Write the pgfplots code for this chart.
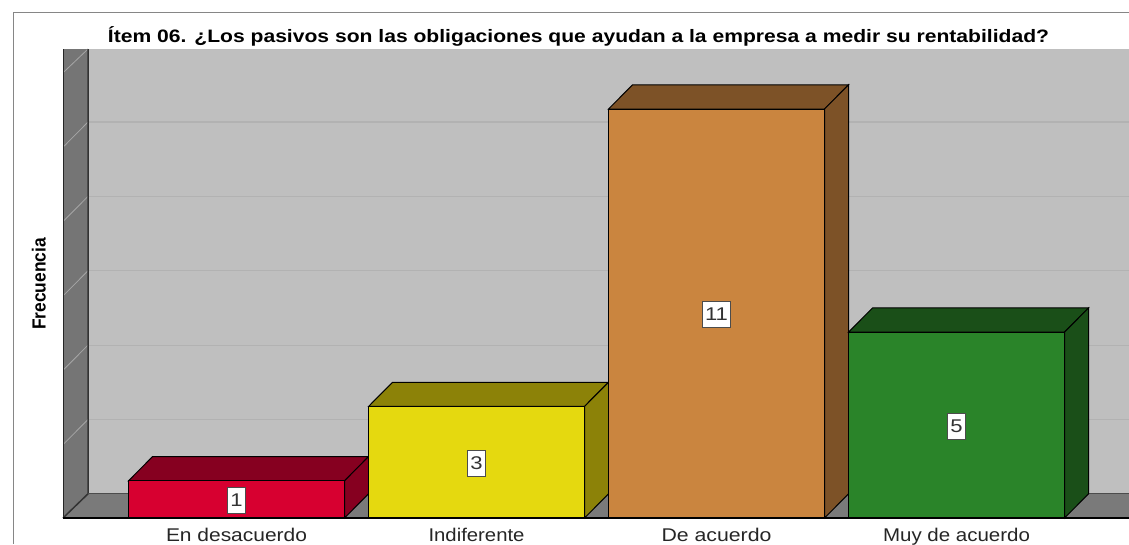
\documentclass[border=0pt]{standalone}
\usepackage{pgfplots}
\usepackage{graphicx}
\usepackage{fontspec}
\setmainfont{Liberation Sans}
\pgfplotsset{compat=1.18}
\definecolor{wall}{HTML}{BFBFBF}
\definecolor{sidewall}{HTML}{757575}
\definecolor{floorc}{HTML}{7A7A7A}
\definecolor{gridc}{HTML}{B2B2B2}
\definecolor{diagc}{HTML}{A6A6A6}
\definecolor{redf}{HTML}{D70030}
\definecolor{redd}{HTML}{860020}
\definecolor{yelf}{HTML}{E5D90F}
\definecolor{yeld}{HTML}{8C8208}
\definecolor{oraf}{HTML}{CA853F}
\definecolor{orad}{HTML}{7D5227}
\definecolor{grnf}{HTML}{2A8429}
\definecolor{grnd}{HTML}{1A4F18}
\newcommand{\tl}[2]{\resizebox{#1pt}{\height}{#2}}
\begin{document}
\begin{tikzpicture}[x=1pt,y=1pt]
\path[use as bounding box] (0,-26) rectangle (1129,518);
\begin{axis}[
  at={(0pt,0pt)}, anchor=south west,
  scale only axis, width=1129pt, height=518pt,
  xmin=-0.98542, xmax=3.71875, ymin=0, ymax=13.932,
  clip=false,
  axis x line=bottom, axis y line=left,
  x axis line style={draw=none,-}, y axis line style={draw=none,-},
  major tick length=0pt,
  ytick=\empty,
  xtick={0,1,2,3},
  xticklabels={\tl{141}{En desacuerdo},\tl{96}{Indiferente},\tl{110}{De acuerdo},\tl{147}{Muy de acuerdo}},
  xticklabel style={anchor=base,yshift=-23.5pt,font=\fontsize{18.4}{20}\selectfont,text=black!85},
  title={\resizebox{941pt}{\height}{\bfseries Ítem 06. ¿Los pasivos son las obligaciones que ayudan a la empresa a medir su rentabilidad?}},
  title style={at={(0.5124,0.9183)},anchor=base,yshift=-6pt,font=\fontsize{18}{20}\selectfont},
  ylabel={\resizebox{92pt}{\height}{\bfseries Frecuencia}},
  ylabel style={at={(0.0345,0.452)},rotate=0,anchor=center,font=\fontsize{19}{20}\selectfont},
]
% page frame
\addplot[draw=gray!95,line width=1pt] coordinates {(-0.93125,-0.699) (-0.93125,13.609) (3.71875,13.609)};
% back wall
\addplot[draw=none,fill=wall] coordinates {(-0.61875,0.65) (-0.61875,12.614) (3.71875,12.614) (3.71875,0.65)} -- cycle;
% gridlines on the back wall
\addplot[draw=gridc,line width=1.2pt] coordinates {(-0.61875,2.65) (3.71875,2.65)};
\addplot[draw=gridc,line width=1.2pt] coordinates {(-0.61875,4.65) (3.71875,4.65)};
\addplot[draw=gridc,line width=1.2pt] coordinates {(-0.61875,6.65) (3.71875,6.65)};
\addplot[draw=gridc,line width=1.2pt] coordinates {(-0.61875,8.65) (3.71875,8.65)};
\addplot[draw=gridc,line width=1.2pt] coordinates {(-0.61875,10.65) (3.71875,10.65)};
% side wall
\addplot[draw=none,fill=sidewall] coordinates {(-0.72292,0) (-0.61875,0.65) (-0.61875,12.614) (-0.72292,12.614)} -- cycle;
\addplot[draw=diagc,line width=0.8pt] coordinates {(-0.7187,2) (-0.61875,2.65)};
\addplot[draw=diagc,line width=0.8pt] coordinates {(-0.7187,4) (-0.61875,4.65)};
\addplot[draw=diagc,line width=0.8pt] coordinates {(-0.7187,6) (-0.61875,6.65)};
\addplot[draw=diagc,line width=0.8pt] coordinates {(-0.7187,8) (-0.61875,8.65)};
\addplot[draw=diagc,line width=0.8pt] coordinates {(-0.7187,10) (-0.61875,10.65)};
\addplot[draw=diagc,line width=0.8pt] coordinates {(-0.7187,12) (-0.61875,12.614)};
\addplot[draw=black!85,line width=1pt] coordinates {(-0.72292,12.614) (-0.72292,0)};
% floor
\addplot[draw=none,fill=floorc] coordinates {(-0.72292,0) (-0.61875,0.65) (3.71875,0.65) (3.71875,0)} -- cycle;
\addplot[draw=black!80,line width=1.5pt] coordinates {(-0.72292,0) (-0.61875,0.65) (-0.61875,12.614)};
\addplot[draw=black!70,line width=1.2pt] coordinates {(-0.61875,0.65) (3.71875,0.65)};
% bar 1
\addplot[draw=black,fill=redd,line width=1pt] coordinates {(-0.45,1) (-0.35,1.65) (0.55,1.65) (0.45,1)} -- cycle;
\addplot[draw=black,fill=redd,line width=1pt] coordinates {(0.45,0) (0.55,0.65) (0.55,1.65) (0.45,1)} -- cycle;
\addplot[ybar,bar width=0.9,bar shift=0pt,draw=black,fill=redf,line width=1pt] coordinates {(0,1)};
% bar 2
\addplot[draw=black,fill=yeld,line width=1pt] coordinates {(0.55,3) (0.65,3.65) (1.55,3.65) (1.45,3)} -- cycle;
\addplot[draw=black,fill=yeld,line width=1pt] coordinates {(1.45,0) (1.55,0.65) (1.55,3.65) (1.45,3)} -- cycle;
\addplot[ybar,bar width=0.9,bar shift=0pt,draw=black,fill=yelf,line width=1pt] coordinates {(1,3)};
% bar 3
\addplot[draw=black,fill=orad,line width=1pt] coordinates {(1.55,11) (1.65,11.65) (2.55,11.65) (2.45,11)} -- cycle;
\addplot[draw=black,fill=orad,line width=1pt] coordinates {(2.45,0) (2.55,0.65) (2.55,11.65) (2.45,11)} -- cycle;
\addplot[ybar,bar width=0.9,bar shift=0pt,draw=black,fill=oraf,line width=1pt] coordinates {(2,11)};
% bar 4
\addplot[draw=black,fill=grnd,line width=1pt] coordinates {(2.55,5) (2.65,5.65) (3.55,5.65) (3.45,5)} -- cycle;
\addplot[draw=black,fill=grnd,line width=1pt] coordinates {(3.45,0) (3.55,0.65) (3.55,5.65) (3.45,5)} -- cycle;
\addplot[ybar,bar width=0.9,bar shift=0pt,draw=black,fill=grnf,line width=1pt] coordinates {(3,5)};
% base line
\addplot[draw=black,line width=1.2pt] coordinates {(-0.72292,0) (3.71875,0)};
% value labels
\addplot[draw=none,mark=none,
  nodes near coords={\scalebox{1.2}[1]{\pgfplotspointmeta}}, point meta=explicit symbolic,
  nodes near coords align={center},
  every node near coord/.append style={fill=white,draw=black!70,line width=1pt,text=black!80,
    font=\fontsize{18.4}{20}\selectfont,minimum height=26pt,inner xsep=3pt,inner ysep=0pt,anchor=center,yshift=-1pt}]
  coordinates {(0,0.5)[1] (1,1.5)[3] (2,5.5)[11] (3,2.5)[5]};
\end{axis}
\end{tikzpicture}
\end{document}
